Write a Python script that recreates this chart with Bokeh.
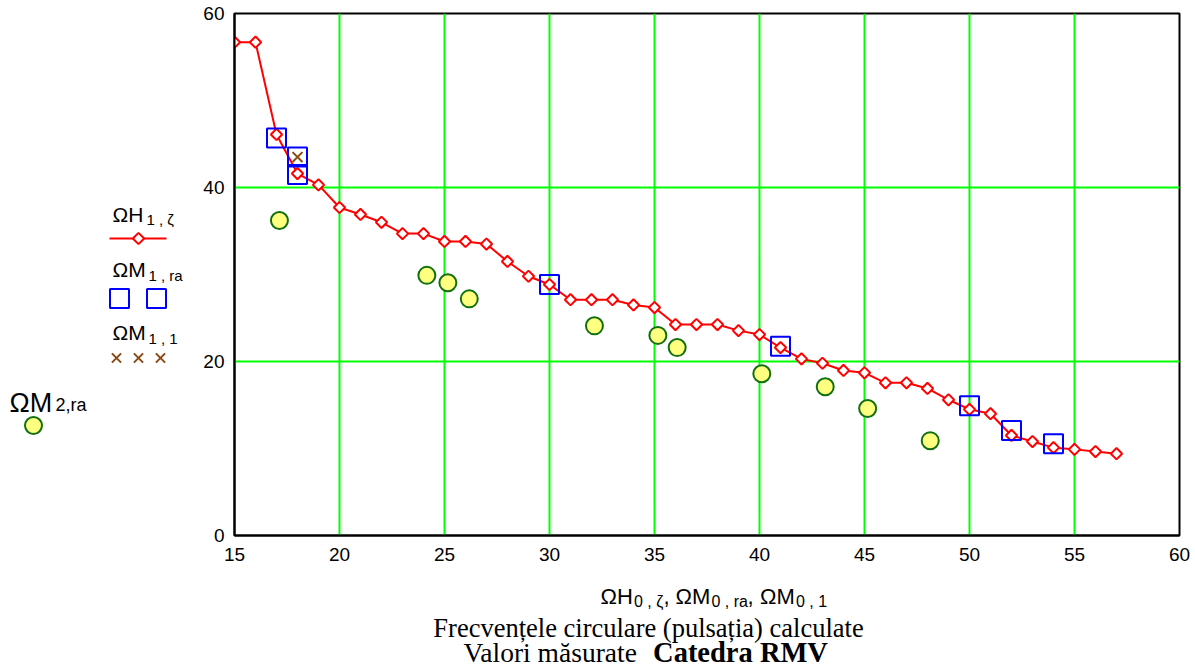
from bokeh.plotting import figure
from bokeh.layouts import row, column
from bokeh.models import Range1d, FixedTicker
from bokeh.core.properties import value
from bokeh.embed import file_html
from bokeh.resources import INLINE
import numpy as np

# ---------------- data ----------------
# Omega H (calculated), red line with diamonds
h_x = [15, 16, 17, 18, 19, 20, 21, 22, 23, 24, 25, 26, 27, 28, 29, 30, 31, 32, 33, 34,
       35, 36, 37, 38, 39, 40, 41, 42, 43, 44, 45, 46, 47, 48, 49, 50, 51, 52, 53, 54,
       55, 56, 57]
h_y = [56.7, 56.7, 46.1, 41.6, 40.3, 37.7, 36.9, 36.0, 34.7, 34.7, 33.8, 33.8, 33.5, 31.5,
       29.8, 28.85, 27.1, 27.1, 27.1, 26.5, 26.2, 24.25, 24.25, 24.25, 23.55, 23.1, 21.6,
       20.3, 19.8, 18.97, 18.7, 17.55, 17.55, 16.9, 15.6, 14.5, 14.0, 11.5, 10.8, 10.1,
       9.9, 9.65, 9.4]
# Omega M1,ra (blue squares)
m1ra_x = [17, 18, 18, 30, 41, 50, 52, 54]
m1ra_y = [45.7, 43.5, 41.5, 28.85, 21.76, 14.9, 12.07, 10.54]
# Omega M1,1 (brown cross)
m11_x = [18]
m11_y = [43.5]
# Omega M2,ra (yellow circles)
m2ra_x = [17.14, 24.16, 25.16, 26.18, 32.14, 35.16, 36.08, 40.11, 43.13, 45.15, 48.13]
m2ra_y = [36.2, 29.9, 29.05, 27.2, 24.1, 23.0, 21.6, 18.6, 17.1, 14.6, 10.9]

x_ticks = [15, 20, 25, 30, 35, 40, 45, 50, 55, 60]
y_ticks = [0, 20, 40, 60]

RED = "#ff0000"
BLUE = "#0000ff"
BROWN = "#8b4a14"
GREEN_GRID = "#00ff00"
CIRC_FILL = "#ffff80"
CIRC_LINE = "#107010"
SANS = "Liberation Sans"
SERIF = "Liberation Serif"

# ---------------- main figure ----------------
p = figure(width=999, height=572, output_backend="svg", toolbar_location=None,
           x_range=Range1d(15, 60), y_range=Range1d(0, 60),
           min_border_left=40, min_border_right=14, min_border_top=13, min_border_bottom=37)
p.background_fill_color = "white"
p.border_fill_color = "white"
p.outline_line_color = "black"
p.outline_line_width = 2

for ax in (p.xaxis, p.yaxis):
    ax.axis_line_color = "black"
    ax.axis_line_width = 2
    ax.major_tick_line_color = None
    ax.minor_tick_line_color = None
    ax.major_label_text_font = SANS
    ax.major_label_text_font_size = "19px"
    ax.major_label_text_color = "black"
p.xaxis.major_label_standoff = 6
p.yaxis.major_label_standoff = 4
p.xaxis.ticker = FixedTicker(ticks=x_ticks)
p.yaxis.ticker = FixedTicker(ticks=y_ticks)

p.xgrid.ticker = FixedTicker(ticks=x_ticks[1:-1])
p.ygrid.ticker = FixedTicker(ticks=y_ticks[1:-1])
for g in (p.xgrid, p.ygrid):
    g.grid_line_color = GREEN_GRID
    g.grid_line_width = 2

p.line(h_x, h_y, line_color=RED, line_width=2)
p.scatter(h_x, h_y, marker="square", size=8, angle=np.pi / 4,
          line_color=RED, line_width=2, fill_color="white")
p.scatter(m1ra_x, m1ra_y, marker="square", size=19, line_color=BLUE, line_width=2,
          fill_color=None)
p.scatter(m11_x, m11_y, marker="x", size=14, line_color=BROWN, line_width=2)
p.scatter(m2ra_x, m2ra_y, marker="circle", size=17, line_color=CIRC_LINE, line_width=2,
          fill_color=CIRC_FILL)


def blank(fig):
    fig.axis.visible = False
    fig.grid.visible = False
    fig.outline_line_color = None
    fig.background_fill_color = "white"
    fig.border_fill_color = "white"


# ---------------- legend figure (page pixel coordinates) ----------------
lg = figure(width=194, height=572, output_backend="svg", toolbar_location=None,
            x_range=Range1d(0, 194), y_range=Range1d(535, 13),
            min_border_left=0, min_border_right=0, min_border_top=13, min_border_bottom=37)
blank(lg)


def ltext(fig, xs, ys, ts, size, font=SANS, style="normal", align="left"):
    fig.text(x=xs, y=ys, text=ts, text_font=value(font), text_font_size=value(size),
             text_font_style=style, text_align=align, text_baseline="alphabetic",
             text_color="black")


ltext(lg, [112, 112, 112], [214, 269, 332], ["ΩH", "ΩM", "ΩM"], "21px")
ltext(lg, [146, 148, 148], [219, 275, 338], ["1 , ζ", "1 , ra", "1 , 1"], "15px")
ltext(lg, [9], [402], ["ΩM"], "27px")
ltext(lg, [55], [404], ["2,ra"], "18px")

lg.line([109, 166], [238, 238], line_color=RED, line_width=2)
lg.scatter([138], [238], marker="square", size=8, angle=np.pi / 4,
           line_color=RED, line_width=2, fill_color="white")
lg.scatter([119, 156], [298, 298], marker="square", size=19, line_color=BLUE, line_width=2,
           fill_color=None)
lg.scatter([116, 138, 160], [357.5, 357.5, 357.5], marker="x", size=13, line_color=BROWN,
           line_width=2)
lg.scatter([33], [425], marker="circle", size=17, line_color=CIRC_LINE, line_width=2,
           fill_color=CIRC_FILL)

# ---------------- bottom text figure (page pixel coordinates) ----------------
bf = figure(width=1193, height=96, output_backend="svg", toolbar_location=None,
            x_range=Range1d(0, 1193), y_range=Range1d(668, 572),
            min_border_left=0, min_border_right=0, min_border_top=0, min_border_bottom=0)
blank(bf)

ltext(bf, [600, 675, 759.5], [596, 596, 596], ["ΩH", "ΩM", "ΩM"], "22px")
ltext(bf, [663, 747], [596, 596], [",", ","], "22px")
ltext(bf, [633.5, 711, 795.5], [601, 601, 601], ["0 , ζ", "0 , ra", "0 , 1"], "16px")
ltext(bf, [648], [627], ["Frecvențele circulare (pulsația) calculate"], "26.5px", font=SERIF,
      align="center")
ltext(bf, [463], [652], ["Valori măsurate"], "27.5px", font=SERIF)
ltext(bf, [740], [652], ["Catedra RMV"], "28.5px", font=SERIF, style="bold", align="center")

layout = column(row(lg, p), bf)
open("out.html", "w").write(file_html(layout, INLINE))
